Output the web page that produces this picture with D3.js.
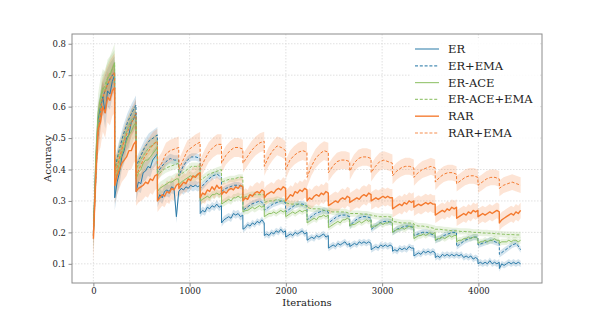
<!DOCTYPE html>
<html><head><meta charset="utf-8">
<script src="https://cdn.jsdelivr.net/npm/d3@7/dist/d3.min.js"></script>
<style>
html,body{margin:0;padding:0;background:#fff;}
svg text{font-family:"DejaVu Serif",serif;fill:#222;}
</style></head>
<body><svg id="chart" width="598" height="314"></svg>
<script>
// ---------- data ----------
const taskLength = 222;
const nTasks = 20;
const seriesNames = ["ER","ER+EMA","ER-ACE","ER-ACE+EMA","RAR","RAR+EMA"];
const xTicks = [0,1000,2000,3000,4000];
const yTicks = [0.1,0.2,0.3,0.4,0.5,0.6,0.7,0.8];

// ER (solid) – 10 samples per task
const erValues = [
 [0.19,0.42,0.56,0.60,0.63,0.58,0.65,0.64,0.68,0.70],
 [0.31,0.36,0.39,0.44,0.46,0.50,0.51,0.55,0.56,0.58],
 [0.33,0.36,0.355,0.39,0.395,0.41,0.405,0.43,0.44,0.45],
 [0.30,0.32,0.31,0.33,0.335,0.33,0.345,0.34,0.25,0.33],
 [0.33,0.34,0.335,0.345,0.34,0.35,0.345,0.35,0.345,0.35],
 [0.26,0.27,0.265,0.28,0.275,0.285,0.28,0.29,0.28,0.285],
 [0.23,0.24,0.245,0.25,0.245,0.26,0.255,0.26,0.25,0.255],
 [0.21,0.215,0.225,0.22,0.23,0.225,0.235,0.23,0.24,0.23],
 [0.19,0.195,0.19,0.20,0.195,0.205,0.20,0.21,0.20,0.205],
 [0.185,0.19,0.195,0.19,0.20,0.195,0.20,0.205,0.195,0.20],
 [0.175,0.18,0.185,0.18,0.19,0.185,0.19,0.195,0.185,0.19],
 [0.15,0.155,0.16,0.155,0.165,0.16,0.165,0.17,0.16,0.165],
 [0.155,0.16,0.165,0.16,0.17,0.165,0.17,0.165,0.17,0.165],
 [0.145,0.15,0.155,0.15,0.16,0.155,0.16,0.155,0.16,0.155],
 [0.14,0.145,0.14,0.15,0.145,0.15,0.145,0.155,0.15,0.15],
 [0.125,0.13,0.135,0.13,0.14,0.135,0.14,0.135,0.14,0.135],
 [0.12,0.125,0.12,0.13,0.125,0.13,0.125,0.13,0.125,0.13],
 [0.13,0.125,0.13,0.12,0.125,0.12,0.125,0.115,0.12,0.115],
 [0.10,0.105,0.10,0.105,0.10,0.11,0.10,0.105,0.10,0.105],
 [0.085,0.10,0.095,0.10,0.105,0.10,0.105,0.10,0.105,0.10]
];
const erStd = [0.05,0.04,0.03,0.02,0.015,0.012,0.012,0.01,0.01,0.01,0.01,0.01,0.01,0.01,0.01,0.01,0.01,0.01,0.01,0.01];

// ER+EMA (dashed) – 6 samples per task
const erEmaValues = [
 [0.20,0.50,0.62,0.66,0.69,0.71],
 [0.40,0.46,0.51,0.55,0.58,0.605],
 [0.41,0.44,0.47,0.49,0.50,0.51],
 [0.39,0.41,0.425,0.435,0.43,0.43],
 [0.38,0.41,0.43,0.44,0.44,0.435],
 [0.34,0.355,0.37,0.38,0.385,0.375],
 [0.33,0.34,0.345,0.35,0.35,0.345],
 [0.27,0.28,0.29,0.295,0.30,0.29],
 [0.27,0.28,0.29,0.295,0.30,0.295],
 [0.265,0.275,0.285,0.29,0.29,0.285],
 [0.24,0.25,0.26,0.265,0.27,0.265],
 [0.23,0.24,0.25,0.255,0.255,0.25],
 [0.22,0.235,0.245,0.25,0.25,0.245],
 [0.21,0.22,0.23,0.235,0.235,0.23],
 [0.20,0.21,0.215,0.22,0.22,0.215],
 [0.19,0.195,0.20,0.20,0.195,0.19],
 [0.175,0.18,0.19,0.195,0.20,0.20],
 [0.155,0.165,0.175,0.18,0.185,0.185],
 [0.16,0.165,0.17,0.175,0.17,0.165],
 [0.13,0.14,0.15,0.16,0.165,0.145]
];
const erEmaStd = [0.05,0.03,0.025,0.015,0.012,0.012,0.01,0.01,0.01,0.01,0.01,0.01,0.01,0.01,0.01,0.01,0.01,0.01,0.01,0.01];

// ER-ACE (solid) – 10 samples per task
const aceValues = [
 [0.19,0.44,0.58,0.63,0.66,0.65,0.69,0.70,0.72,0.74],
 [0.35,0.39,0.42,0.45,0.47,0.49,0.51,0.52,0.54,0.55],
 [0.37,0.39,0.40,0.42,0.43,0.43,0.44,0.45,0.46,0.47],
 [0.33,0.34,0.345,0.35,0.355,0.36,0.36,0.365,0.37,0.37],
 [0.35,0.36,0.365,0.37,0.375,0.38,0.375,0.38,0.385,0.38],
 [0.30,0.305,0.31,0.315,0.31,0.32,0.32,0.325,0.32,0.325],
 [0.29,0.295,0.30,0.305,0.30,0.31,0.31,0.315,0.31,0.315],
 [0.265,0.27,0.27,0.275,0.28,0.275,0.28,0.285,0.28,0.285],
 [0.25,0.255,0.26,0.26,0.265,0.26,0.265,0.27,0.265,0.27],
 [0.25,0.255,0.26,0.265,0.26,0.265,0.27,0.265,0.27,0.27],
 [0.23,0.235,0.24,0.245,0.24,0.25,0.25,0.255,0.25,0.255],
 [0.215,0.22,0.225,0.23,0.235,0.23,0.24,0.24,0.245,0.24],
 [0.22,0.225,0.225,0.23,0.235,0.23,0.235,0.24,0.235,0.24],
 [0.215,0.22,0.22,0.225,0.23,0.225,0.23,0.23,0.235,0.23],
 [0.20,0.205,0.21,0.21,0.215,0.21,0.215,0.22,0.215,0.22],
 [0.18,0.185,0.19,0.19,0.195,0.19,0.195,0.20,0.195,0.20],
 [0.175,0.18,0.18,0.185,0.18,0.185,0.19,0.185,0.19,0.19],
 [0.17,0.175,0.175,0.18,0.18,0.185,0.18,0.185,0.185,0.18],
 [0.165,0.17,0.17,0.175,0.17,0.175,0.175,0.18,0.175,0.175],
 [0.165,0.17,0.17,0.17,0.175,0.17,0.175,0.175,0.17,0.175]
];
const aceStd = [0.06,0.045,0.03,0.02,0.015,0.012,0.012,0.012,0.01,0.01,0.01,0.01,0.01,0.01,0.01,0.01,0.01,0.01,0.01,0.01];

// ER-ACE+EMA (dashed) – 6 samples per task
const aceEmaValues = [
 [0.20,0.51,0.64,0.68,0.71,0.73],
 [0.39,0.45,0.49,0.53,0.56,0.57],
 [0.40,0.43,0.45,0.47,0.48,0.49],
 [0.38,0.395,0.405,0.41,0.415,0.42],
 [0.38,0.39,0.40,0.41,0.41,0.41],
 [0.365,0.375,0.385,0.39,0.395,0.40],
 [0.36,0.365,0.37,0.37,0.375,0.375],
 [0.31,0.315,0.32,0.32,0.32,0.32],
 [0.295,0.30,0.30,0.305,0.30,0.30],
 [0.295,0.29,0.29,0.29,0.285,0.285],
 [0.28,0.275,0.275,0.275,0.27,0.27],
 [0.27,0.265,0.265,0.265,0.265,0.26],
 [0.26,0.26,0.26,0.258,0.258,0.255],
 [0.255,0.252,0.25,0.25,0.25,0.248],
 [0.235,0.233,0.23,0.23,0.23,0.228],
 [0.225,0.22,0.22,0.218,0.215,0.212],
 [0.21,0.21,0.208,0.207,0.205,0.205],
 [0.205,0.203,0.203,0.202,0.20,0.20],
 [0.20,0.198,0.198,0.197,0.196,0.195],
 [0.195,0.194,0.193,0.193,0.192,0.192]
];
const aceEmaStd = [0.05,0.035,0.025,0.015,0.012,0.012,0.01,0.01,0.01,0.01,0.01,0.01,0.01,0.01,0.01,0.01,0.01,0.01,0.01,0.01];

// RAR (solid) – 10 samples per task
const rarValues = [
 [0.18,0.38,0.53,0.55,0.60,0.58,0.63,0.62,0.65,0.66],
 [0.35,0.38,0.40,0.42,0.43,0.44,0.46,0.46,0.48,0.49],
 [0.33,0.34,0.345,0.35,0.36,0.355,0.37,0.365,0.38,0.385],
 [0.30,0.31,0.32,0.315,0.33,0.325,0.34,0.335,0.35,0.355],
 [0.34,0.35,0.36,0.355,0.37,0.365,0.38,0.375,0.385,0.39],
 [0.31,0.325,0.32,0.335,0.33,0.345,0.335,0.35,0.34,0.345],
 [0.32,0.33,0.325,0.335,0.34,0.335,0.345,0.34,0.35,0.345],
 [0.30,0.31,0.305,0.32,0.315,0.325,0.33,0.325,0.335,0.33],
 [0.31,0.32,0.325,0.33,0.325,0.335,0.34,0.335,0.345,0.34],
 [0.30,0.31,0.32,0.315,0.33,0.325,0.335,0.33,0.34,0.335],
 [0.30,0.31,0.305,0.315,0.32,0.315,0.325,0.32,0.33,0.325],
 [0.285,0.29,0.295,0.30,0.295,0.305,0.31,0.305,0.315,0.31],
 [0.295,0.30,0.305,0.31,0.305,0.315,0.32,0.315,0.325,0.32],
 [0.30,0.305,0.31,0.305,0.31,0.315,0.31,0.315,0.31,0.31],
 [0.275,0.28,0.285,0.29,0.285,0.295,0.29,0.30,0.295,0.30],
 [0.28,0.285,0.29,0.285,0.29,0.295,0.29,0.295,0.29,0.29],
 [0.255,0.26,0.265,0.27,0.265,0.275,0.27,0.28,0.275,0.28],
 [0.245,0.25,0.255,0.26,0.255,0.265,0.26,0.27,0.265,0.27],
 [0.25,0.255,0.26,0.255,0.26,0.265,0.26,0.265,0.27,0.265],
 [0.23,0.24,0.245,0.25,0.255,0.26,0.255,0.265,0.26,0.27]
];
const rarStd = [0.08,0.06,0.045,0.035,0.03,0.03,0.03,0.03,0.03,0.03,0.03,0.03,0.03,0.028,0.028,0.028,0.025,0.025,0.025,0.025];

// RAR+EMA (dashed) – 6 samples per task
const rarEmaValues = [
 [0.19,0.50,0.62,0.66,0.69,0.71],
 [0.38,0.43,0.48,0.52,0.55,0.58],
 [0.38,0.41,0.44,0.46,0.48,0.49],
 [0.40,0.42,0.45,0.46,0.465,0.47],
 [0.40,0.43,0.46,0.47,0.48,0.487],
 [0.40,0.43,0.455,0.47,0.48,0.48],
 [0.42,0.445,0.46,0.47,0.47,0.465],
 [0.42,0.44,0.46,0.475,0.485,0.49],
 [0.41,0.44,0.46,0.475,0.47,0.46],
 [0.40,0.43,0.445,0.455,0.46,0.455],
 [0.375,0.41,0.435,0.45,0.46,0.455],
 [0.39,0.41,0.425,0.43,0.43,0.425],
 [0.395,0.42,0.435,0.44,0.44,0.435],
 [0.39,0.41,0.425,0.43,0.425,0.42],
 [0.38,0.395,0.405,0.41,0.41,0.405],
 [0.375,0.39,0.40,0.405,0.41,0.405],
 [0.36,0.375,0.385,0.39,0.39,0.385],
 [0.355,0.365,0.375,0.38,0.38,0.375],
 [0.35,0.36,0.37,0.375,0.375,0.37],
 [0.34,0.35,0.355,0.36,0.355,0.35]
];
const rarEmaStd = [0.06,0.045,0.04,0.035,0.032,0.032,0.03,0.03,0.03,0.03,0.03,0.028,0.028,0.028,0.027,0.027,0.025,0.025,0.025,0.025];

const seriesColors = ["#2a7aa8","#2a7aa8","#8cc063","#8cc063","#f47a2f","#f47a2f"];
const seriesDashed = [false,true,false,true,false,true];
const seriesWidths = [1,1,1,1,1.4,1];

// ---------- build ----------
const allValues = [erValues, erEmaValues, aceValues, aceEmaValues, rarValues, rarEmaValues];
const allStd = [erStd, erEmaStd, aceStd, aceEmaStd, rarStd, rarEmaStd];

function toPoints(vals, std){
  const pts = [];
  vals.forEach((task, k) => {
    const n = task.length;
    task.forEach((v, j) => {
      pts.push({it: k*taskLength + j*(taskLength-1)/(n-1), v: v, s: std[k]});
    });
  });
  return pts;
}
const series = seriesNames.map((name,i)=>({
  name, color: seriesColors[i], dashed: seriesDashed[i], width: seriesWidths[i],
  points: toPoints(allValues[i], allStd[i])
}));

const svg = d3.select("#chart");
const margin = {left:72, right:56, top:34, bottom:31};
const W = 598, H = 314;
const lastIt = nTasks*taskLength - 1;
const pad = lastIt*0.05;
const x = d3.scaleLinear().domain([-pad, lastIt+pad]).range([margin.left, W-margin.right]);
const y = d3.scaleLinear().domain([0.039,0.831]).range([H-margin.bottom, margin.top]);

// grid
const grid = svg.append("g");
grid.selectAll(".gx").data(xTicks).join("line")
  .attr("x1",d=>x(d)).attr("x2",d=>x(d)).attr("y1",margin.top).attr("y2",H-margin.bottom)
  .attr("stroke","#d9d9d9").attr("stroke-width",0.8).attr("stroke-dasharray","1.5,1.5");
grid.selectAll(".gy").data(yTicks).join("line")
  .attr("y1",d=>y(d)).attr("y2",d=>y(d)).attr("x1",margin.left).attr("x2",W-margin.right)
  .attr("stroke","#d9d9d9").attr("stroke-width",0.8).attr("stroke-dasharray","1.5,1.5");

const plot = svg.append("g");
const area = d3.area().x(d=>x(d.it)).y0(d=>y(d.v-d.s)).y1(d=>y(d.v+d.s));
const line = d3.line().x(d=>x(d.it)).y(d=>y(d.v));
series.forEach(s=>{
  plot.append("path").attr("d",area(s.points)).attr("fill",s.color).attr("fill-opacity",0.2).attr("stroke","none");
});
series.forEach(s=>{
  plot.append("path").attr("d",line(s.points)).attr("fill","none").attr("stroke",s.color)
    .attr("stroke-width",s.width).attr("stroke-dasharray",s.dashed?"3,1.8":null).attr("stroke-linejoin","round");
});

// frame
svg.append("rect").attr("x",margin.left).attr("y",margin.top)
  .attr("width",W-margin.left-margin.right).attr("height",H-margin.top-margin.bottom)
  .attr("fill","none").attr("stroke","#8c8c8c").attr("stroke-width",1);

// axes
const xAxis = d3.axisBottom(x).tickValues(xTicks).tickFormat(d3.format("d")).tickSize(3.5).tickPadding(1.5);
const yAxis = d3.axisLeft(y).tickValues(yTicks).tickFormat(d3.format(".1f")).tickSize(3.5).tickPadding(2.5);
const gx = svg.append("g").attr("transform",`translate(0,${H-margin.bottom})`).call(xAxis);
const gy = svg.append("g").attr("transform",`translate(${margin.left},0)`).call(yAxis);
[gx,gy].forEach(g=>{
  g.select(".domain").remove();
  g.selectAll(".tick line").attr("stroke","#8c8c8c");
  g.selectAll(".tick text").attr("font-size","8.5px").attr("fill","#222").style("font-family","DejaVu Serif");
});

svg.append("text").attr("x",(margin.left+W-margin.right)/2).attr("y",305.5)
  .attr("text-anchor","middle").attr("font-size","10px").text("Iterations");
svg.append("text").attr("transform",`translate(51,${(margin.top+H-margin.bottom)/2}) rotate(-90)`)
  .attr("text-anchor","middle").attr("font-size","10px").text("Accuracy");

// legend
const lg = svg.append("g");
lg.append("rect").attr("x",411).attr("y",38).attr("width",128).attr("height",104).attr("rx",2)
  .attr("fill","#fff").attr("fill-opacity",0.85);
series.forEach((s,i)=>{
  const ly = 49 + i*16.8;
  lg.append("line").attr("x1",415).attr("x2",439).attr("y1",ly).attr("y2",ly)
    .attr("stroke",s.color).attr("stroke-opacity",0.85).attr("stroke-width",s.width+0.2)
    .attr("stroke-dasharray",s.dashed?"3,1.8":null);
  lg.append("text").attr("x",448).attr("y",ly).attr("dy","0.35em").attr("font-size","11.5px").text(s.name);
});
</script></body></html>
